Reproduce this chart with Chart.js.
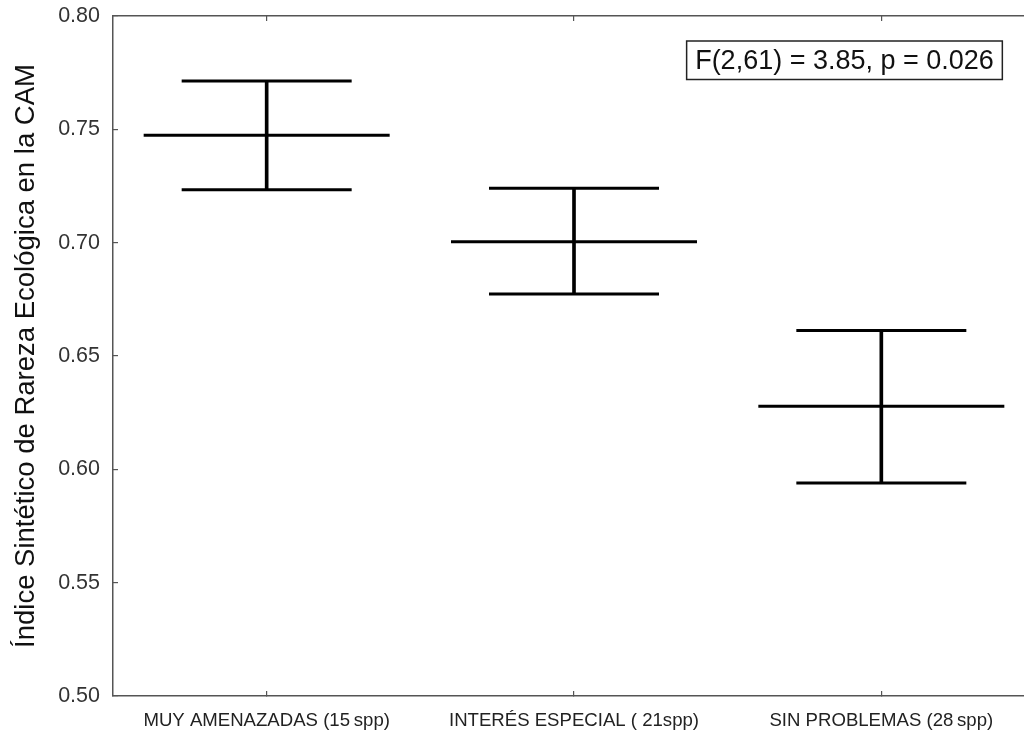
<!DOCTYPE html>
<html><head><meta charset="utf-8">
<script src="https://cdn.jsdelivr.net/npm/chart.js@4/dist/chart.umd.min.js"></script>
<style>
html,body{margin:0;padding:0;background:#fff;overflow:hidden;}
#wrap{position:relative;width:1035px;height:733px;}
</style></head><body>
<div id="wrap"><canvas id="c"></canvas></div>
<script>
const categories = ['MUY AMENAZADAS (15\u2009spp)', 'INTERÉS ESPECIAL ( 21spp)', 'SIN PROBLEMAS (28\u2009spp)'];
const means = [0.7474, 0.7004, 0.6278];
const upper = [0.7713, 0.7240, 0.6613];
const lower = [0.7234, 0.6774, 0.5940];
const yMin = 0.50, yMax = 0.80, yStep = 0.05;
const yTitle = 'Índice Sintético de Rareza Ecológica en la CAM';
const statText = 'F(2,61) = 3.85, p = 0.026';

const FONT = "'Liberation Sans', Arial, sans-serif";

const statBox = {
  id: 'statBox',
  afterDraw(chart) {
    const ctx = chart.ctx, a = chart.chartArea;
    const xs = chart.scales.x;
    const right = xs.getPixelForValue(2) + 121;
    const top = a.top + 25, h = 38.5;
    ctx.save();
    ctx.font = '27px ' + FONT;
    const w = ctx.measureText(statText).width + 17;
    ctx.strokeStyle = '#222';
    ctx.lineWidth = 1.5;
    ctx.strokeRect(right - w, top, w, h);
    ctx.fillStyle = '#111';
    ctx.textAlign = 'center';
    ctx.textBaseline = 'middle';
    ctx.fillText(statText, right - w / 2, top + h / 2 + 1);
    ctx.restore();
  }
};

const gridCommon = { drawOnChartArea: false, drawTicks: true, tickLength: -5, color: '#555', lineWidth: 1.2, offset: false };

new Chart(document.getElementById('c'), {
  type: 'bar',
  data: {
    labels: categories,
    datasets: [
      { type: 'bar', data: categories.map((c, i) => [lower[i], upper[i]]), backgroundColor: '#000', barThickness: 3, order: 4 },
      { type: 'line', data: upper, showLine: false, pointStyle: 'line', pointRadius: 85, pointBorderWidth: 3, borderColor: '#000', backgroundColor: '#000', order: 1, clip: false },
      { type: 'line', data: lower, showLine: false, pointStyle: 'line', pointRadius: 85, pointBorderWidth: 3, borderColor: '#000', backgroundColor: '#000', order: 2, clip: false },
      { type: 'line', data: means, showLine: false, pointStyle: 'line', pointRadius: 123, pointBorderWidth: 3, borderColor: '#000', backgroundColor: '#000', order: 3, clip: false }
    ]
  },
  options: {
    responsive: true,
    maintainAspectRatio: false,
    animation: false,
    events: [],
    layout: { padding: 0, autoPadding: false },
    plugins: { legend: { display: false }, tooltip: { enabled: false } },
    scales: {
      x: {
        type: 'category', position: 'bottom', offset: true,
        grid: gridCommon,
        border: { display: true, color: '#555', width: 1.5 },
        ticks: { font: { family: FONT, size: 18.6 }, color: '#222', padding: 19, maxRotation: 0, autoSkip: false },
        afterFit: s => { s.height = 37; s.paddingLeft = 0; s.paddingRight = 0; }
      },
      x2: {
        type: 'category', position: 'top', offset: true, labels: categories,
        grid: gridCommon,
        border: { display: true, color: '#555', width: 1.5 },
        ticks: { display: false },
        afterFit: s => { s.height = 16; s.paddingLeft = 0; s.paddingRight = 0; }
      },
      y: {
        type: 'linear', position: 'left', min: yMin, max: yMax,
        grid: gridCommon,
        border: { display: true, color: '#555', width: 1.5 },
        ticks: { stepSize: yStep, callback: v => v.toFixed(2), font: { family: FONT, size: 21.5 }, color: '#333', padding: 18 },
        title: { display: true, text: yTitle, font: { family: FONT, size: 27.5 }, color: '#111', padding: { top: 10, bottom: 0 } },
        afterFit: s => { s.width = 113; s.paddingTop = 0; s.paddingBottom = 0; }
      }
    }
  },
  plugins: [statBox]
});
</script>
</body></html>
